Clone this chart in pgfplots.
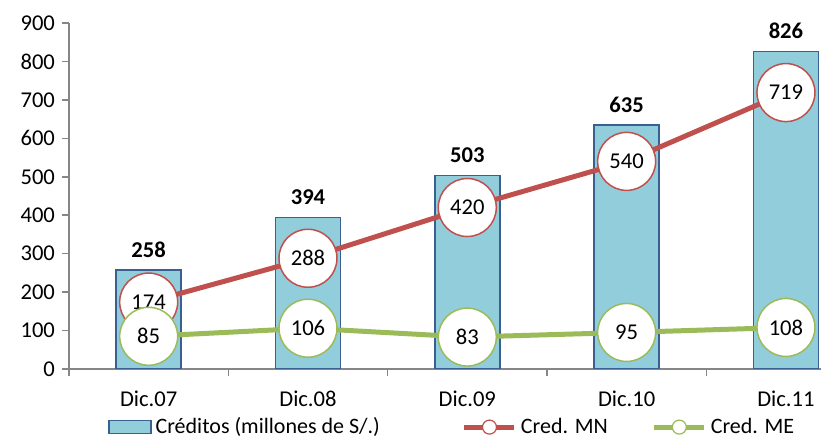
\documentclass[border=0pt]{standalone}
\usepackage{fontspec}
\setmainfont{Carlito}
\usepackage{pgfplots}
\pgfplotsset{compat=1.18}
\usetikzlibrary{calc}
\definecolor{barfill}{HTML}{92CDDC}
\definecolor{barline}{HTML}{3A5F91}
\definecolor{mnred}{HTML}{C0504D}
\definecolor{megreen}{HTML}{9BBB59}
\definecolor{axgray}{HTML}{868686}
\begin{document}
\begin{tikzpicture}
\begin{axis}[name=ax, scale only axis, width=376pt, height=173pt,
  xmin=-0.5, xmax=4.22, ymin=0, ymax=900,
  axis x line*=bottom, axis y line*=left,
  axis line style={axgray, line width=0.75pt},
  ytick={0,100,...,900}, tick align=outside,
  major y tick style={axgray, line width=0.75pt},
  major tick length=3.5pt,
  xtick={0,1,2,3,4}, xticklabels={Dic.07,Dic.08,Dic.09,Dic.10,Dic.11},
  major x tick style={draw=none},
  minor xtick={-0.5,0.5,1.5,2.5,3.5},
  minor x tick style={axgray, line width=0.75pt},
  minor tick length=3.5pt,
  xticklabel style={yshift=-4pt},
  tick label style={font=\fontsize{11.3}{13}\selectfont},
  /pgf/number format/assume math mode=true,
  legend columns=3,
  legend style={at={(0.511,-0.168)}, anchor=center, draw=none, fill=none,
    font=\fontsize{11}{13}\selectfont, inner xsep=1pt},
  legend cell align=left]
\addplot[ybar, bar width=32.5pt, bar shift=0pt, fill=barfill, draw=barline, line width=0.8pt,
  nodes near coords, nodes near coords style={anchor=south, yshift=2.5pt, font=\bfseries\fontsize{11.3}{13}\selectfont, text=black},
  legend image code/.code={\draw[fill=barfill, draw=barline, line width=0.6pt] (0pt,-3.2pt) rectangle (21pt,3.2pt);}]
  coordinates {(0,258) (1,394) (2,503) (3,635) (4,826)};
\addlegendentry{Créditos (millones de S/.)\rule{39pt}{0pt}}
\addplot[mnred, line width=2.5pt, mark=*, mark size=14.5pt,
  mark options={fill=white, draw=mnred, line width=0.75pt},
  nodes near coords, nodes near coords align={center},
  nodes near coords style={anchor=center, font=\fontsize{11.3}{13}\selectfont, text=black},
  legend image code/.code={\draw[mnred, line width=2.5pt] (0pt,0pt) -- (25pt,0pt); \draw[mnred, fill=white, line width=0.6pt] (12.5pt,0pt) circle (3.5pt);}]
  coordinates {(0,174) (1,288) (2,420) (3,540) (4,719)};
\addlegendentry{Cred. MN\rule{20pt}{0pt}}
\addplot[megreen, line width=2.5pt, mark=*, mark size=14.5pt,
  mark options={fill=white, draw=megreen, line width=0.75pt},
  nodes near coords, nodes near coords align={center},
  nodes near coords style={anchor=center, font=\fontsize{11.3}{13}\selectfont, text=black},
  legend image code/.code={\draw[megreen, line width=2.5pt] (0pt,0pt) -- (25pt,0pt); \draw[megreen, fill=white, line width=0.6pt] (12.5pt,0pt) circle (3.5pt);}]
  coordinates {(0,85) (1,106) (2,83) (3,95) (4,108)};
\addlegendentry{Cred. ME}
\end{axis}
\pgfresetboundingbox
\useasboundingbox ($(ax.south west)+(-34.5pt,-35pt)$) rectangle ($(ax.north east)+(0pt,11.5pt)$);
\end{tikzpicture}
\end{document}
